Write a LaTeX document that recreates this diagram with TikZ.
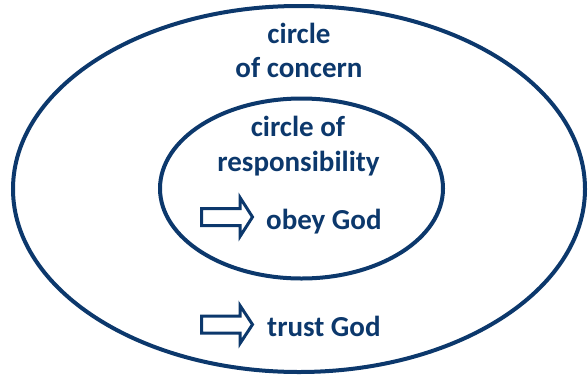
\documentclass[tikz,border=0pt]{standalone}
\usepackage{fontspec}
\setmainfont{Carlito}
\definecolor{navy}{RGB}{12,56,108}
\begin{document}
\begin{tikzpicture}[x=1pt,y=-1pt,
  ring/.style={draw=navy,line width=4pt},
  lbl/.style={text=navy,font=\bfseries\fontsize{29}{34}\selectfont,inner sep=0pt,anchor=base},
  blockarrow/.style={draw=navy,fill=white,line width=3pt,line join=miter}]
\useasboundingbox (0,0) rectangle (588,378);
\draw[ring] (299,189) ellipse [x radius=286, y radius=183];
\draw[ring] (301.5,188.5) ellipse [x radius=141.5, y radius=90];
\node[lbl] (c1) at (299,43) {circle};
\node[lbl] (c2) at (299,77) {of concern};
\node[lbl] (r1) at (298,136) {circle of};
\node[lbl] (r2) at (298.5,171) {responsibility};
\node[lbl,anchor=base west] (obey) at (266,229) {obey God};
\node[lbl,anchor=base west] (trust) at (267,336) {trust God};
\draw[blockarrow] (201.5,208.5) -- (240,208.5) -- (240,197.5) -- (252.5,217) -- (240,236.5) -- (240,225.5) -- (201.5,225.5) -- cycle;
\draw[blockarrow] (201.5,316) -- (240,316) -- (240,305.5) -- (252.5,324.5) -- (240,343.5) -- (240,333) -- (201.5,333) -- cycle;
\end{tikzpicture}
\end{document}
